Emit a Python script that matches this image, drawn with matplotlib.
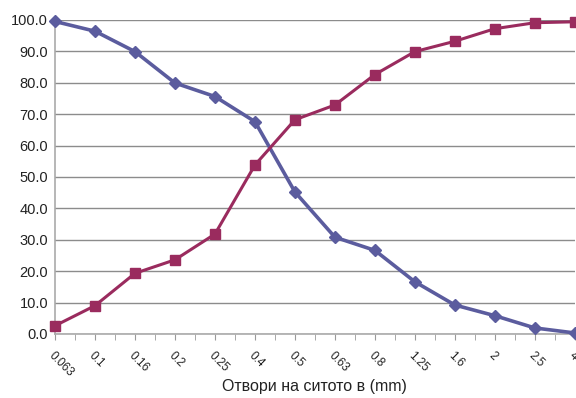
import matplotlib
matplotlib.use("Agg")
import matplotlib.pyplot as plt
from matplotlib.ticker import FixedLocator

sieves = ["0.063", "0.1", "0.16", "0.2", "0.25", "0.4", "0.5", "0.63", "0.8", "1.25", "1.6", "2", "2.5", "4"]
passing = [99.5, 96.4, 89.9, 79.9, 75.6, 67.6, 45.2, 30.8, 26.6, 16.6, 9.2, 5.8, 1.9, 0.3]
retained = [2.6, 9.0, 19.3, 23.6, 31.8, 53.8, 68.2, 72.9, 82.6, 89.9, 93.2, 97.2, 99.1, 99.4]
yticks = [0, 10, 20, 30, 40, 50, 60, 70, 80, 90, 100]

plt.rcParams["font.family"] = ["Liberation Sans", "DejaVu Sans"]

fig = plt.figure(figsize=(5.76, 3.98), dpi=100)
ax = fig.add_axes([0.0955, 0.161, 0.9025, 0.789])

x = list(range(len(sieves)))
ax.plot(x, passing, color="#5b5c9e", lw=2.6, marker="D", ms=6.5, clip_on=False, zorder=3)
ax.plot(x, retained, color="#9a2b5e", lw=2.2, marker="s", ms=7.5, clip_on=False, zorder=4)

ax.set_xlim(0, len(sieves) - 1)
ax.set_ylim(0, 100)
ax.set_yticks(yticks)
ax.set_yticklabels([f"{v:.1f}" for v in yticks], fontsize=10.5, color="#222222")
ax.yaxis.grid(True, color="#8c8c8c", lw=1)
ax.set_axisbelow(True)
ax.tick_params(axis="y", length=0, pad=5)

ax.set_xticks(x)
ax.set_xticklabels(sieves, rotation=-45, ha="left", va="top", rotation_mode="anchor",
                   fontsize=8.5, color="#222222")
ax.xaxis.set_minor_locator(FixedLocator([i + 0.5 for i in x[:-1]]))
ax.tick_params(axis="x", which="both", direction="out", length=4, color="#999999", pad=7)

for s in ["top", "right"]:
    ax.spines[s].set_visible(False)
for s in ["left", "bottom"]:
    ax.spines[s].set_color("#aaaaaa")
    ax.spines[s].set_linewidth(1.2)

ax.set_xlabel("Отвори на ситото в (mm)", fontsize=11.5, color="#222222", labelpad=0)

fig.savefig("out.png", dpi=100, facecolor="white")
